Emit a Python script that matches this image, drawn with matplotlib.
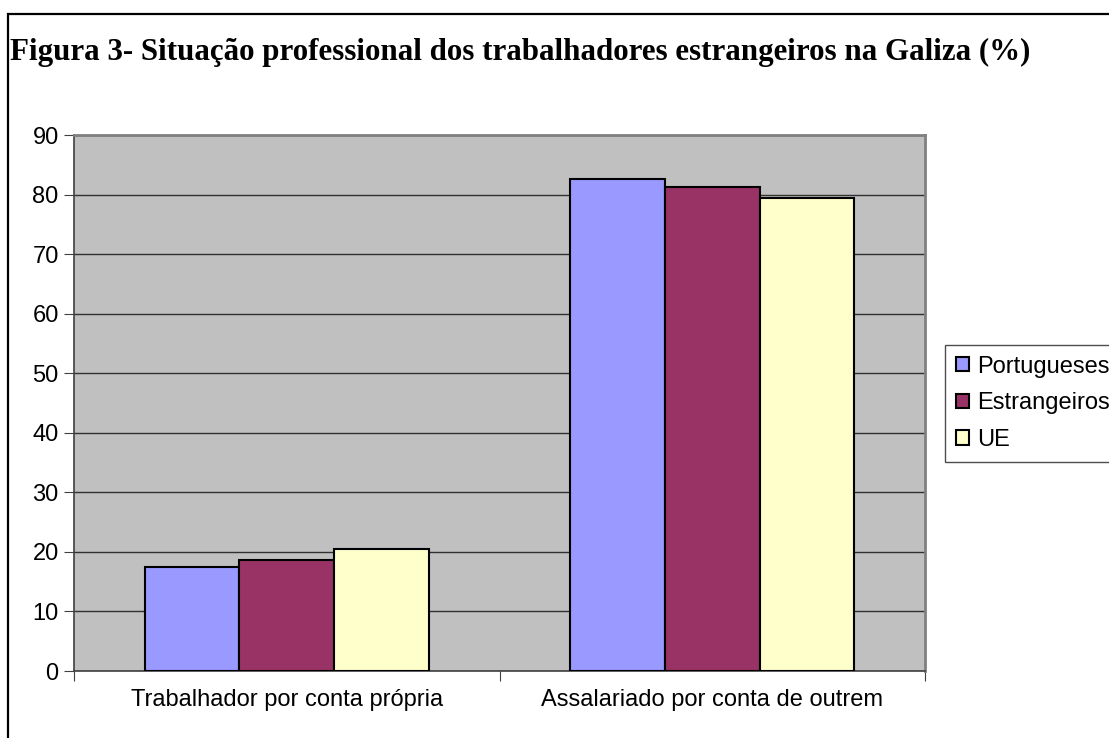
import matplotlib.pyplot as plt
import numpy as np
from matplotlib.patches import Rectangle

plt.rcParams['font.family'] = ['Liberation Sans', 'DejaVu Sans']

categories = ['Trabalhador por conta própria', 'Assalariado por conta de outrem']
series_names = ['Portugueses', 'Estrangeiros', 'UE']
portugueses = [17.4, 82.6]
estrangeiros = [18.7, 81.3]
ue = [20.5, 79.5]
colors = ['#9999FF', '#993366', '#FFFFCC']

W, H = 1109, 738
fig = plt.figure(figsize=(W / 100, H / 100), dpi=100)

# frame round the whole chart (right and bottom run off the picture)
fig.patches.append(Rectangle((8 / W, -0.1), 1.2, 1 - 14 / H + 0.1, transform=fig.transFigure,
                             fill=False, edgecolor='black', linewidth=1.6, clip_on=False))

fig.text(10 / W, 1 - 52 / H, 'Figura 3- Situação professional dos trabalhadores estrangeiros na Galiza (%)',
         fontsize=22.3, fontweight='bold', family='Liberation Serif', va='center', ha='left')

ax = fig.add_axes([74 / W, 1 - 671 / H, (925 - 74) / W, (671 - 135) / H])
ax.set_facecolor('#C0C0C0')

x = np.arange(len(categories))
bw = 1 / 4.5
for i, (vals, name) in enumerate(zip([portugueses, estrangeiros, ue], series_names)):
    ax.bar(x + (i - 1) * bw, vals, width=bw, color=colors[i], edgecolor='black',
           linewidth=1.5, label=name, zorder=3)

ax.set_xlim(-0.5, 1.5)
ax.set_ylim(0, 90)
ax.set_yticks(np.arange(0, 91, 10))
ax.yaxis.grid(True, color='#303030', linewidth=1, zorder=1)
ax.set_xticks([-0.5, 0.5, 1.5])
ax.set_xticklabels([])
ax.set_xticks(x, minor=True)
ax.set_xticklabels(categories, minor=True)
ax.tick_params(axis='x', which='minor', length=0, pad=13, labelsize=17)
ax.tick_params(axis='x', which='major', length=7, color='#404040')
ax.tick_params(axis='y', length=7, color='#404040', labelsize=17, pad=4)
for s in ['top', 'right']:
    ax.spines[s].set_color('#808080')
    ax.spines[s].set_linewidth(2)
for s in ['left', 'bottom']:
    ax.spines[s].set_color('#404040')
    ax.spines[s].set_linewidth(1.2)

leg = fig.legend(loc='upper left', bbox_to_anchor=(945 / W, 1 - 345 / H), fontsize=17,
                 frameon=True, fancybox=False, edgecolor='#202020', handlelength=0.55,
                 handleheight=0.55, handletextpad=0.35, labelspacing=0.62, borderpad=0.45,
                 borderaxespad=0)
leg.get_frame().set_linewidth(1)

fig.savefig('out.png', dpi=100)
